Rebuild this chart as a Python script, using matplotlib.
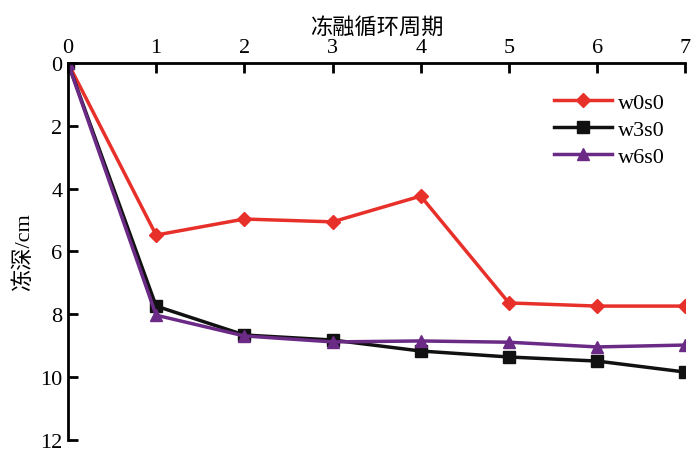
import matplotlib
matplotlib.use('Agg')
import matplotlib.pyplot as plt

plt.rcParams['font.family'] = ['Liberation Serif', 'Noto Sans CJK SC']

cycles = [0, 1, 2, 3, 4, 5, 6, 7]
w0s0 = [0, 5.48, 4.97, 5.06, 4.24, 7.64, 7.74, 7.74]
w3s0 = [0, 7.74, 8.66, 8.82, 9.17, 9.36, 9.49, 9.84]
w6s0 = [0, 8.03, 8.69, 8.88, 8.85, 8.89, 9.04, 8.98]

fig = plt.figure(figsize=(7, 4.56), dpi=100)
ax = fig.add_axes([0.097, 0.033, 0.882, 0.827])

ax.plot(cycles, w0s0, color='#e8302a', lw=2.5, marker='D', ms=7, label='w0s0')
ax.plot(cycles, w3s0, color='#111111', lw=2.5, marker='s', ms=8, label='w3s0')
ax.plot(cycles, w6s0, color='#6a2a86', lw=2.5, marker='^', ms=8, label='w6s0')

ax.set_xlim(0, 7)
ax.set_ylim(12, 0)
ax.set_xticks(range(0, 8))
ax.set_yticks(range(0, 13, 2))
ax.xaxis.tick_top()
ax.xaxis.set_label_position('top')
ax.spines['right'].set_visible(False)
ax.spines['bottom'].set_visible(False)
ax.spines['left'].set_linewidth(2)
ax.spines['top'].set_linewidth(2)
ax.tick_params(direction='in', length=7, width=2, labelsize=16, pad=4)
ax.set_xlabel('冻融循环周期', fontsize=16, labelpad=4)
ax.set_ylabel('冻深/cm', fontsize=16, labelpad=4)

ax.legend(loc='upper right', bbox_to_anchor=(1.0, 0.975), frameon=False,
          fontsize=16, handlelength=2.6, handletextpad=0.3, labelspacing=0.3)

fig.savefig('out.png', dpi=100)
